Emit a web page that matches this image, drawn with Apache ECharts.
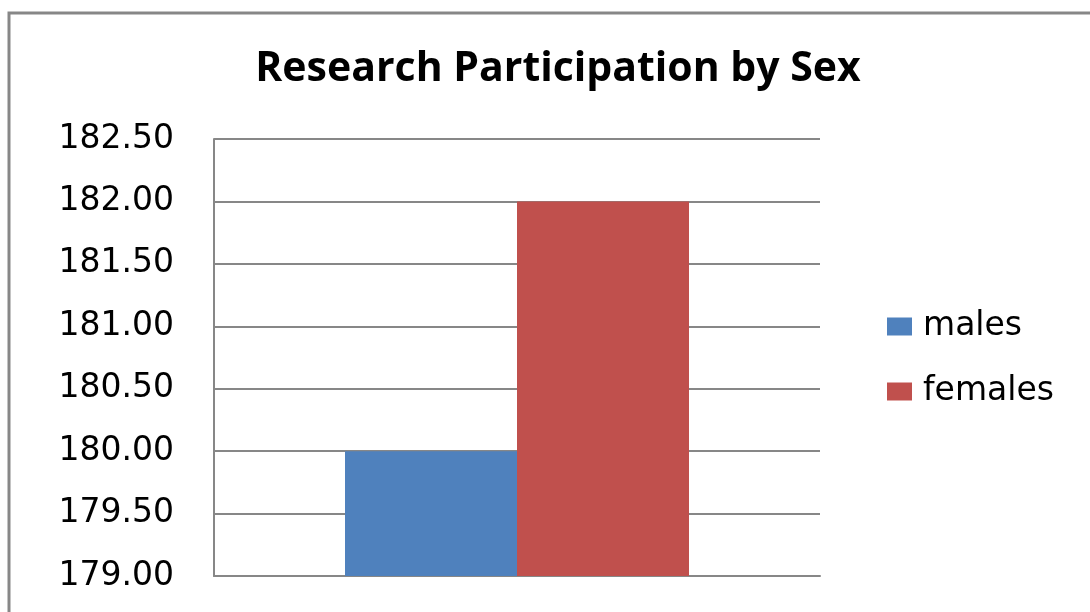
<!DOCTYPE html>
<html>
<head>
<meta charset="utf-8">
<script src="https://cdn.jsdelivr.net/npm/echarts@6/dist/echarts.min.js"></script>
<style>
  html, body { margin: 0; padding: 0; background: #fff; }
  #main { width: 1090px; height: 612px; }
</style>
</head>
<body>
<div id="main"></div>
<script>
// 数据
var categories = [''];
var males = [180.00];
var females = [182.00];
var yMin = 179.00, yMax = 182.50, yStep = 0.5;

var myChart = echarts.init(document.getElementById('main'));

var gray = '#878787';

var option = {
    animation: false,
    backgroundColor: '#fff',
    graphic: [{
        type: 'rect',
        shape: { x: 9, y: 13, width: 1200, height: 700 },
        style: { fill: 'none', stroke: gray, lineWidth: 3 },
        silent: true
    }],
    title: {
        text: 'Research Participation by Sex',
        left: 553,
        textAlign: 'center',
        top: 44,
        textStyle: {
            fontFamily: 'Open Sans',
            fontWeight: 'bold',
            fontSize: 41,
            color: '#000'
        }
    },
    legend: {
        orient: 'vertical',
        left: 887,
        top: 310,
        padding: 0,
        itemWidth: 25,
        itemHeight: 18,
        itemGap: 32,
        icon: 'rect',
        textStyle: {
            fontFamily: 'DejaVu Sans',
            fontSize: 33,
            color: '#000',
            padding: [0, 0, 0, 6]
        },
        data: ['males', 'females']
    },
    grid: {
        left: 214,
        right: 1090 - 820,
        top: 139,
        bottom: 612 - 576
    },
    xAxis: {
        type: 'category',
        data: categories,
        axisTick: { show: false },
        axisLabel: { show: false },
        axisLine: { lineStyle: { color: gray, width: 2 } }
    },
    yAxis: {
        type: 'value',
        min: yMin,
        max: yMax,
        interval: yStep,
        axisLine: { show: true, lineStyle: { color: gray, width: 2 } },
        axisTick: { show: false },
        splitLine: { show: true, lineStyle: { color: gray, width: 2 } },
        axisLabel: {
            margin: 40,
            fontFamily: 'DejaVu Sans',
            fontSize: 33,
            color: '#000',
            formatter: function (v) { return v.toFixed(2); }
        }
    },
    series: [{
        name: 'males',
        type: 'bar',
        data: males,
        barWidth: 172,
        barGap: '0%',
        itemStyle: { color: '#4F81BD' }
    }, {
        name: 'females',
        type: 'bar',
        data: females,
        barWidth: 172,
        itemStyle: { color: '#C0504D' }
    }]
};

myChart.setOption(option);
</script>
</body>
</html>
